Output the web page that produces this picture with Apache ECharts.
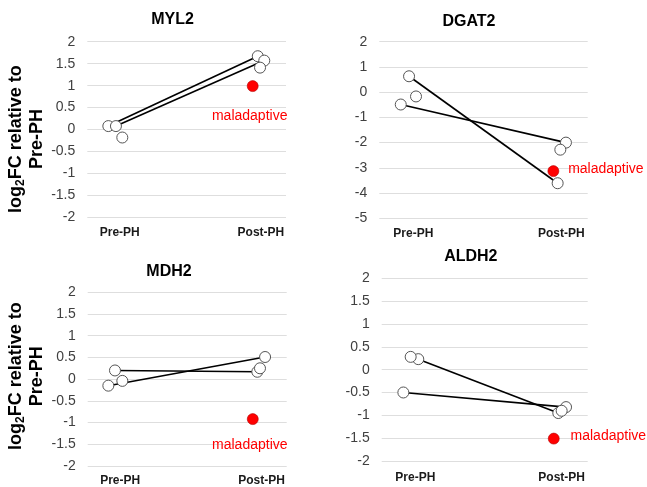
<!DOCTYPE html>
<html>
<head>
<meta charset="utf-8">
<script src="https://cdn.jsdelivr.net/npm/echarts@6/dist/echarts.min.js"></script>
<style>
html,body{margin:0;padding:0;background:#fff;}
#chart{width:647px;height:487px;}
</style>
</head>
<body>
<div id="chart"></div>
<script>
// ---------- DATA ----------
const genes = ['MYL2', 'DGAT2', 'MDH2', 'ALDH2'];
const categories = ['Pre-PH', 'Post-PH'];   // x = 1, x = 2
const categoryX = [1, 2];
const yMin = [-2, -5, -2, -2];
const yMax = [2, 2, 2, 2];
const yStep = [0.5, 1, 0.5, 0.5];
const calloutText = 'maladaptive';

// MYL2
const myl2PreX = [0.919, 0.973, 1.018];
const myl2PreY = [0.08, 0.08, -0.18];
const myl2PostX = [1.978, 2.024, 1.994];
const myl2PostY = [1.67, 1.57, 1.41];
const myl2Mal = [1.942, 0.99];
const myl2Pairs = [[0, 0], [1, 1]];

// DGAT2
const dgat2PreX = [0.971, 0.915, 1.018];
const dgat2PreY = [0.63, -0.49, -0.17];
const dgat2PostX = [1.975, 2.031, 1.993];
const dgat2PostY = [-3.61, -2.0, -2.28];
const dgat2Mal = [1.946, -3.13];
const dgat2Pairs = [[0, 0], [1, 1]];

// MDH2
const mdh2PreX = [0.963, 0.916, 1.015];
const mdh2PreY = [0.2, -0.15, -0.04];
const mdh2PostX = [1.970, 2.025, 1.989];
const mdh2PostY = [0.17, 0.51, 0.25];
const mdh2Mal = [1.938, -0.92];
const mdh2Pairs = [[0, 0], [1, 1]];

// ALDH2
const aldh2PreX = [1.020, 0.918, 0.968];
const aldh2PreY = [0.23, -0.50, 0.28];
const aldh2PostX = [1.977, 2.030, 2.000];
const aldh2PostY = [-0.95, -0.82, -0.90];
const aldh2Mal = [1.946, -1.51];
const aldh2Pairs = [[0, 0], [1, 1]];

// ---------- LAYOUT / STYLE ----------
const FONT = '"Liberation Sans", Arial, sans-serif';
const xMin = 0.77, xMax = 2.178;
const gridBoxes = [
  {left: 87.3, top: 41.7, width: 198.7, height: 175.8},
  {left: 379.3, top: 41.7, width: 208.4, height: 176.6},
  {left: 87.7, top: 292.3, width: 199, height: 177},
  {left: 381.7, top: 278.3, width: 206, height: 182.7}
];
const titlePos = [[172.5, 12], [469, 14], [169, 264], [470.8, 248.5]];
const xLabelMargin = [9, 9, 9, 11];
const malLabel = [
  {position: 'bottom', distance: 17, offset: [-3, 0]},
  {position: 'right', distance: 9, offset: [0, -2]},
  {position: 'bottom', distance: 13, offset: [-3, 0]},
  {position: 'right', distance: 11, offset: [0, -2]}
];
const yNamePadding = [[0, 19, 0, 0], null, [0, 0, 0, 6], null];

const panels = [
  {pre: [myl2PreX, myl2PreY], post: [myl2PostX, myl2PostY], mal: myl2Mal, pairs: myl2Pairs},
  {pre: [dgat2PreX, dgat2PreY], post: [dgat2PostX, dgat2PostY], mal: dgat2Mal, pairs: dgat2Pairs},
  {pre: [mdh2PreX, mdh2PreY], post: [mdh2PostX, mdh2PostY], mal: mdh2Mal, pairs: mdh2Pairs},
  {pre: [aldh2PreX, aldh2PreY], post: [aldh2PostX, aldh2PostY], mal: aldh2Mal, pairs: aldh2Pairs}
];

const grid = [], xAxis = [], yAxis = [], series = [], title = [];
panels.forEach((p, i) => {
  grid.push(Object.assign({containLabel: false}, gridBoxes[i]));
  title.push({
    text: genes[i], left: titlePos[i][0], top: titlePos[i][1], textAlign: 'center', padding: 0,
    textStyle: {fontFamily: FONT, fontSize: 16, fontWeight: 'bold', color: '#000'}
  });
  xAxis.push({
    type: 'value', gridIndex: i, min: xMin, max: xMax,
    axisLine: {show: false}, axisTick: {show: false}, splitLine: {show: false},
    axisLabel: {
      customValues: categoryX, margin: xLabelMargin[i],
      formatter: v => categories[categoryX.indexOf(Math.round(v))] || '',
      fontFamily: FONT, fontSize: 12, fontWeight: 'bold', color: '#1a1a1a'
    }
  });
  const ya = {
    type: 'value', gridIndex: i, min: yMin[i], max: yMax[i], interval: yStep[i],
    axisLine: {show: false}, axisTick: {show: false},
    splitLine: {show: true, lineStyle: {color: '#dedede', width: 1}},
    axisLabel: {margin: 12, fontFamily: FONT, fontSize: 14, color: '#404040'}
  };
  if (yNamePadding[i]) {
    ya.name = '{t|log}{s|2}{t|FC relative to}\n{t|Pre-PH}';
    ya.nameLocation = 'middle';
    ya.nameRotate = 90;
    ya.nameGap = 40;
    ya.nameTextStyle = {
      padding: yNamePadding[i],
      rich: {
        t: {fontFamily: FONT, fontSize: 18, fontWeight: 'bold', color: '#000', lineHeight: 21},
        s: {fontFamily: FONT, fontSize: 12, fontWeight: 'bold', color: '#000', lineHeight: 12, verticalAlign: 'bottom'}
      }
    };
  }
  yAxis.push(ya);

  p.pairs.forEach(pr => {
    series.push({
      type: 'line', xAxisIndex: i, yAxisIndex: i, z: 1,
      showSymbol: false, silent: true, animation: false,
      lineStyle: {color: '#000', width: 1.6},
      data: [[p.pre[0][pr[0]], p.pre[1][pr[0]]], [p.post[0][pr[1]], p.post[1][pr[1]]]]
    });
  });
  const pts = [];
  p.pre[0].forEach((x, k) => pts.push([x, p.pre[1][k]]));
  p.post[0].forEach((x, k) => pts.push([x, p.post[1][k]]));
  series.push({
    type: 'scatter', xAxisIndex: i, yAxisIndex: i, z: 3, animation: false,
    symbol: 'circle', symbolSize: 11,
    itemStyle: {color: '#fff', borderColor: '#555', borderWidth: 1, opacity: 1},
    data: pts
  });
  series.push({
    type: 'scatter', xAxisIndex: i, yAxisIndex: i, z: 4, animation: false,
    symbol: 'circle', symbolSize: 11,
    itemStyle: {color: '#ff0000', borderColor: '#b00000', borderWidth: 0.6, opacity: 1},
    label: Object.assign({
      show: true, formatter: calloutText,
      fontFamily: FONT, fontSize: 14, color: '#ff0000'
    }, malLabel[i]),
    data: [p.mal]
  });
});

const chart = echarts.init(document.getElementById('chart'), null, {renderer: 'canvas'});
chart.setOption({animation: false, backgroundColor: '#fff', title, grid, xAxis, yAxis, series});
</script>
</body>
</html>
